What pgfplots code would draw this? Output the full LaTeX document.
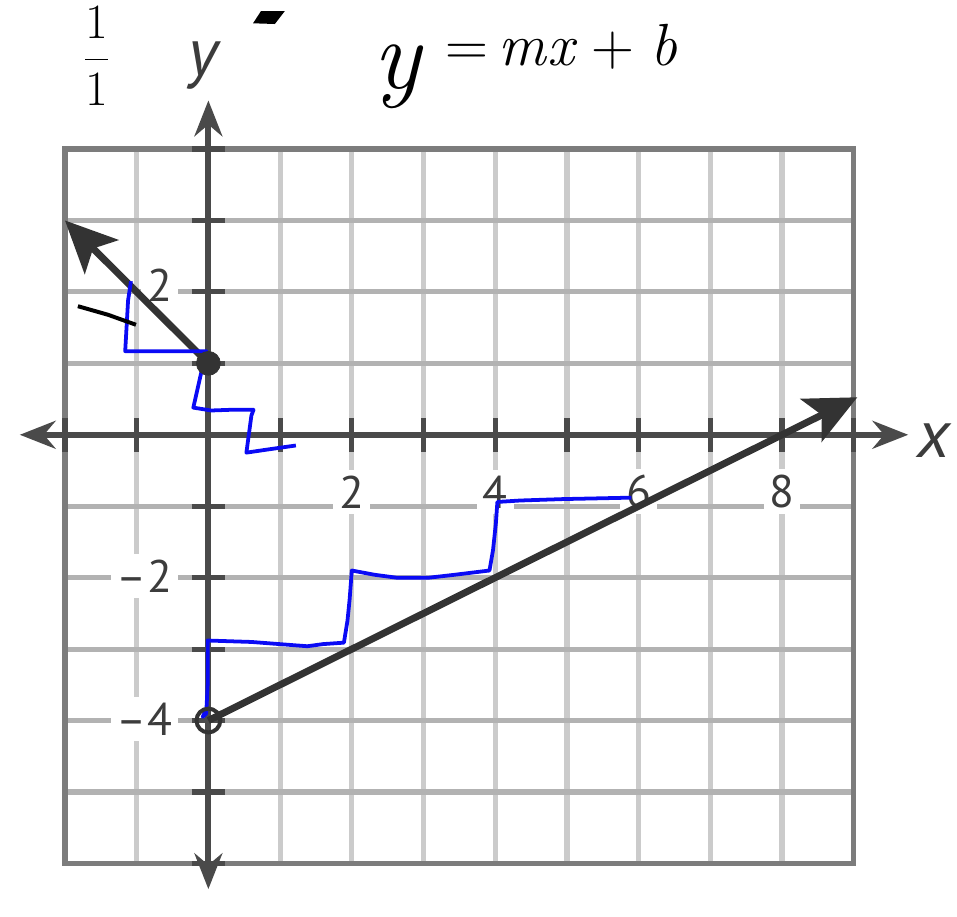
\documentclass[border=0pt]{standalone}
\usepackage{pgfplots}
\pgfplotsset{compat=1.18}
\usepackage{fontspec}
\setmainfont{PT Sans}
\newfontfamily\lmfont{Latin Modern Roman}
\usetikzlibrary{arrows.meta}
\definecolor{gridv}{HTML}{CBCBCB}
\definecolor{gridh}{HTML}{B2B2B2}
\definecolor{framec}{HTML}{7C7C7C}
\definecolor{axisc}{HTML}{4A4A4A}
\definecolor{ink}{HTML}{333333}
\definecolor{lbl}{HTML}{3C3C3C}
\definecolor{pen}{HTML}{0A0AF5}

\begin{document}
\begin{tikzpicture}
\begin{axis}[
  scale only axis, width=397.5pt, height=360pt,
  xmin=-2, xmax=9, ymin=-6, ymax=4,
  xtick={-2,...,9}, ytick={-6,...,4},
  xticklabel={\relax}, yticklabel={\relax},
  major tick length=0pt,
  grid=major,
  x grid style={draw=gridv, line width=2.6pt},
  y grid style={draw=gridh, line width=2.6pt},
  axis line style={draw=framec, line width=2.6pt},
  clip=false,
]
% page size
\path (axis cs:-2.906,5.93) rectangle (axis cs:10.336,-6.737);

% axes through the origin
\draw[axisc, line width=3pt, {Stealth[length=18pt,width=14pt]}-{Stealth[length=18pt,width=14pt]}]
  (axis cs:-2.63,0) -- (axis cs:9.76,0);
\draw[axisc, line width=3pt, {Stealth[length=18pt,width=14pt]}-{Stealth[length=18pt,width=14pt]}]
  (axis cs:0,-6.36) -- (axis cs:0,4.68);
\pgfplotsinvokeforeach{-2,...,9}{\draw[axisc, line width=2.6pt] (axis cs:#1,-0.236) -- (axis cs:#1,0.236);}
\pgfplotsinvokeforeach{-6,...,4}{\draw[axisc, line width=2.6pt] (axis cs:-0.235,#1) -- (axis cs:0.235,#1);}

% tick labels
\tikzset{tl/.style={fill=white, text=lbl, inner sep=3pt, font=\fontsize{23}{23}\selectfont}}
\node[tl] at (axis cs:2,-0.8) {2};
\node[tl] at (axis cs:4,-0.8) {4};
\node[tl] at (axis cs:6,-0.8) {6};
\node[tl] at (axis cs:8,-0.8) {8};
\node[tl, anchor=east] at (axis cs:-0.42,2.1) {2};
\node[tl, anchor=east] at (axis cs:-0.42,-1.98) {–2};
\node[tl, anchor=east] at (axis cs:-0.42,-3.98) {–4};

% axis names
\node[text=lbl, font=\fontsize{34}{34}\selectfont\itshape] at (axis cs:-0.07,5.17) {y};
\node[text=lbl, font=\fontsize{34}{34}\selectfont\itshape] at (axis cs:10.12,-0.08) {x};

% the two lines
\addplot[ink, line width=3.5pt, -{Stealth[length=26pt,width=24pt,inset=6pt]}] coordinates {(0,1) (-2,3)};
\addplot[ink, line width=3.5pt, -{Stealth[length=26pt,width=24pt,inset=6pt]}] coordinates {(0,-4) (9.05,0.525)};
\addplot[only marks, mark=*, mark size=6pt, ink] coordinates {(0,1)};
\addplot[only marks, mark=o, mark size=6pt, ink, mark options={line width=2pt}] coordinates {(0,-4)};

% hand-drawn rise/run steps
\addplot[pen, line width=1.9pt, line join=round] coordinates {
  (-0.02,-3.82) (-0.08,-3.95) (-0.03,-3.9) (-0.01,-3.5) (-0.01,-2.88)
  (0.6,-2.9) (1.38,-2.96) (1.6,-2.93) (1.89,-2.91) (1.94,-2.6) (1.97,-2.3) (2.0,-1.9)
  (2.32,-1.96) (2.62,-2.0) (3.08,-2.0) (3.43,-1.96) (3.92,-1.9)
  (3.97,-1.61) (4.01,-1.23) (4.03,-0.94)
  (4.35,-0.92) (4.95,-0.9) (5.9,-0.88)};
\addplot[pen, line width=1.9pt, line join=round] coordinates {
  (-1.08,2.15) (-1.12,1.88) (-1.16,1.17) (-0.03,1.17)
  (-0.10,0.87) (-0.21,0.38) (0.04,0.34) (0.32,0.35) (0.63,0.35)
  (0.60,0.27) (0.53,-0.25) (0.80,-0.21) (1.22,-0.15)};
\addplot[black, line width=2pt] coordinates {(-1.82,1.80) (-1.40,1.68) (-1.01,1.54)};

% handwriting at the top
\node at (axis cs:-1.56,5.3) {\fontsize{24}{24}\selectfont$\displaystyle\frac{1}{1}$};
\node[anchor=base west, inner sep=0pt] at (axis cs:2.3,4.85)
  {\lmfont\itshape\fontsize{50}{50}\selectfont y};
\node[anchor=base west, inner sep=0pt] at (axis cs:3.3,5.17)
  {\lmfont\fontsize{30}{30}\selectfont =\,\itshape m\kern1pt x\;\upshape+\;\itshape b};
\fill[black] (axis cs:0.623,5.76) -- (axis cs:0.927,5.75) -- (axis cs:1.065,5.93) -- (axis cs:0.733,5.93) -- cycle;
\end{axis}
\end{tikzpicture}
\end{document}
